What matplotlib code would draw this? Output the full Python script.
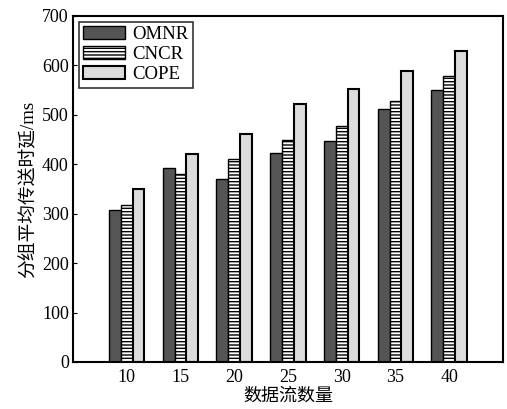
import numpy as np
import matplotlib
matplotlib.use("Agg")
import matplotlib.pyplot as plt

# data
flows = ["10", "15", "20", "25", "30", "35", "40"]
omnr = [308, 393, 370, 423, 447, 512, 551]
cncr = [318, 380, 411, 449, 478, 528, 579]
cope = [350, 421, 461, 522, 553, 589, 630]
y_ticks = [0, 100, 200, 300, 400, 500, 600, 700]

plt.rcParams['font.family'] = ['Liberation Serif', 'Noto Sans CJK SC']
plt.rcParams['hatch.linewidth'] = 1.0
plt.rcParams['hatch.color'] = 'black'

fig = plt.figure(figsize=(5.07, 4.09), dpi=100)
ax = fig.add_axes([0.144, 0.115, 0.848, 0.846])

x = np.arange(1, len(flows) + 1)
w = 0.22
ax.bar(x - w, omnr, w, color='#555555', edgecolor='black', linewidth=1.0, label='OMNR')
ax.bar(x, cncr, w, color='white', edgecolor='black', linewidth=1.0, hatch='-----', label='CNCR')
ax.bar(x + w, cope, w, color='#dcdcdc', edgecolor='black', linewidth=1.5, label='COPE')

ax.set_xlim(0, 8)
ax.set_ylim(0, 700)
ax.set_xticks(x)
ax.set_xticklabels(flows)
ax.set_yticks(y_ticks)
ax.tick_params(axis='both', direction='in', labelsize=13, length=3, pad=3)
ax.tick_params(axis='x', length=0, pad=5)

for s in ax.spines.values():
    s.set_linewidth(1.5)

ax.set_xlabel("数据流数量", fontsize=13, labelpad=1)
ax.set_ylabel("分组平均传送时延/ms", fontsize=13.5, labelpad=3)

leg = ax.legend(loc='upper left', fontsize=13.5, frameon=True, fancybox=False,
                edgecolor='black', handlelength=2.2, handletextpad=0.4,
                borderpad=0.25, labelspacing=0.15, borderaxespad=0.3)
leg.get_frame().set_linewidth(1.2)

fig.savefig("out.png", dpi=100)
